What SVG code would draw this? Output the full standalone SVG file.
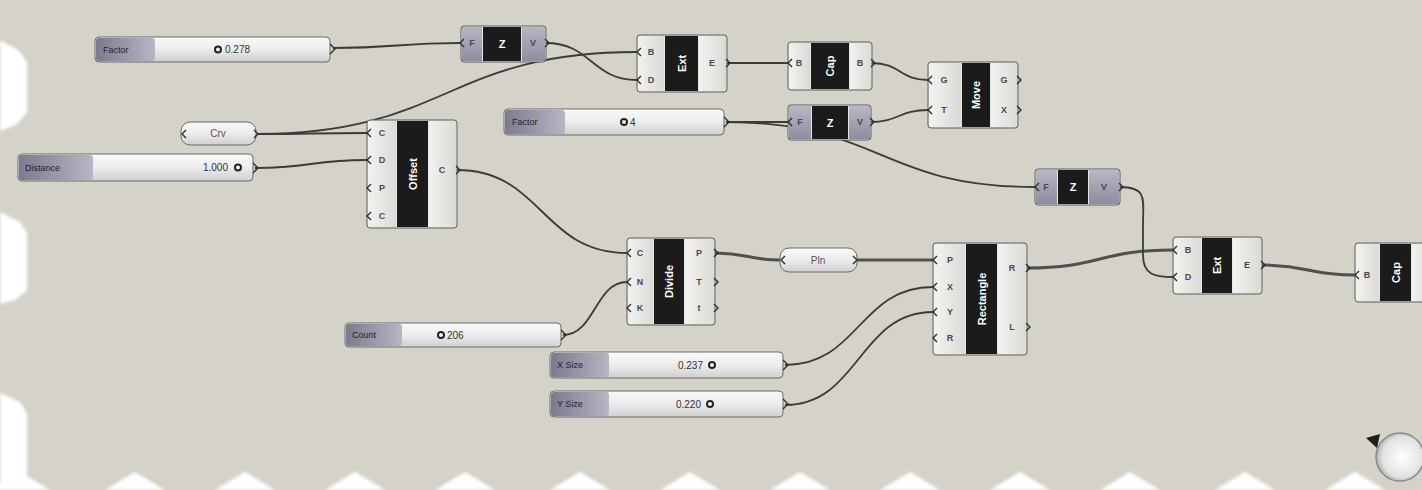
<svg xmlns="http://www.w3.org/2000/svg" width="1422" height="490" viewBox="0 0 1422 490">
<defs>
<linearGradient id="valG" x1="0" y1="0" x2="0" y2="1"><stop offset="0" stop-color="#fafafa"/><stop offset="0.5" stop-color="#ececec"/><stop offset="1" stop-color="#cfcfcf"/></linearGradient>
<linearGradient id="labG" x1="0" y1="0" x2="1" y2="0"><stop offset="0" stop-color="#7c7a8c"/><stop offset="1" stop-color="#b8b6c4"/></linearGradient>
<linearGradient id="sideG" x1="0" y1="0" x2="1" y2="0"><stop offset="0" stop-color="#f2f2f0"/><stop offset="1" stop-color="#dadad6"/></linearGradient>
<linearGradient id="zG" x1="0" y1="0" x2="0" y2="1"><stop offset="0" stop-color="#b9b6c6"/><stop offset="1" stop-color="#8f8ca0"/></linearGradient>
<radialGradient id="navG" cx="0.55" cy="0.5" r="0.6"><stop offset="0" stop-color="#ffffff"/><stop offset="0.7" stop-color="#e2e2e2"/><stop offset="1" stop-color="#9a9a9a"/></radialGradient>
<filter id="soft" x="-10%" y="-10%" width="120%" height="120%"><feGaussianBlur stdDeviation="1.5"/></filter>
</defs>
<style>
.body{fill:#e6e6e3;stroke:#5c5c5c;stroke-width:1}
.side{fill:url(#sideG)}
.zside{fill:url(#zG)}
.core{fill:#1b1b1b}
.name{font-family:"Liberation Sans",Arial,sans-serif;font-size:11px;font-weight:bold;fill:#ffffff;text-anchor:middle;dominant-baseline:central}
.port{font-family:"Liberation Sans",Arial,sans-serif;font-size:9px;font-weight:bold;fill:#4a4a4a;text-anchor:middle;dominant-baseline:central}
.wire{fill:none;stroke:#3b3b3b;stroke-width:1.8}
.thick{fill:none;stroke:#505050;stroke-width:3}
.grip{fill:none;stroke:#2e2e2e;stroke-width:1.4}
.sval{fill:url(#valG);stroke:#6a6a6a;stroke-width:1}
.slab{fill:url(#labG)}
.ltxt{font-family:"Liberation Sans",Arial,sans-serif;font-size:9px;fill:#24222f;dominant-baseline:central}
.vtxt{font-family:"Liberation Sans",Arial,sans-serif;font-size:10px;fill:#333;dominant-baseline:central}
.knob{fill:#f4f4f4;stroke:#222;stroke-width:2}
.ptxt{font-family:"Liberation Sans",Arial,sans-serif;font-size:10px;fill:#555;text-anchor:middle;dominant-baseline:central}
.pbody{fill:url(#valG);stroke:#6a6a6a;stroke-width:1}
</style>
<rect width="1422" height="490" fill="#d5d2ca"/>
<g id="edges" fill="#ffffff" filter="url(#soft)">
<path d="M0,40 L18,50 L27,62 L27,112 L16,125 L0,131 Z"/>
<path d="M0,212 L20,222 L27,233 L27,290 L15,300 L0,304 Z"/>
<path d="M0,393 L20,402 L27,413 L27,490 L0,490 Z"/>
<path d="M-10,490 L20,472 L50,490 Z M105,490 L135,472 L165,490 Z M215,490 L245,472 L275,490 Z M325,490 L355,472 L385,490 Z M435,490 L465,472 L495,490 Z M550,490 L580,472 L610,490 Z M660,490 L690,472 L720,490 Z M770,490 L800,472 L830,490 Z M880,490 L910,472 L940,490 Z M990,490 L1020,472 L1050,490 Z M1100,490 L1130,472 L1160,490 Z M1215,490 L1245,472 L1275,490 Z M1325,490 L1355,472 L1385,490 Z"/>
</g>
<g id="connectors">
<path class="wire" d="M333,48 C396,48 397,43 460,43"/>
<path class="wire" d="M546,43 C591,43 592,80 637,80"/>
<path class="wire" d="M257,134 C447,134 447,52 637,52"/>
<path class="wire" d="M257,134 C312,134 312,133 367,133"/>
<path class="wire" d="M255,168 C311,168 311,160 367,160"/>
<path class="wire" d="M457,170 C542,170 542,253 627,253"/>
<path class="wire" d="M563,335 C595,335 595,282 627,282"/>
<path class="thick" d="M715,253 C748,253 748,260 780,260"/>
<path class="thick" d="M857,260 C895,260 895,260 933,260"/>
<path class="wire" d="M785,365 C859,365 859,287 933,287"/>
<path class="wire" d="M785,405 C859,405 859,312 933,312"/>
<path class="wire" d="M727,63 C758,63 758,63 788,63"/>
<path class="wire" d="M872,63 C900,63 900,80 928,80"/>
<path class="wire" d="M726,122 C757,122 757,122 788,122"/>
<path class="wire" d="M870,122 C899,122 899,110 928,110"/>
<path class="wire" d="M726,122 C880,122 880,187 1035,187"/>
<path class="thick" d="M1027,268 C1100,268 1100,250 1173,250"/>
<path class="wire" d="M1120,187 C1148,187 1143,200 1143,225 L1143,255 C1143,275 1155,277 1173,277"/>
<path class="thick" d="M1262,265 C1308,265 1308,275 1355,275"/>
</g>
<g id="slider-factor1">
<rect class="sval" x="95" y="37" width="235" height="25" rx="4"/>
<rect class="slab" x="96" y="38" width="59" height="23" rx="3"/>
<text class="ltxt" x="103" y="49.5">Factor</text>
<circle class="knob" cx="218" cy="49.5" r="3"/>
<text class="vtxt" x="225" y="49.5">0.278</text>
<path class="grip" d="M330,44 L335,49 L330,54"/>
</g>
<g id="slider-factor2">
<rect class="sval" x="504" y="109" width="220" height="26" rx="4"/>
<rect class="slab" x="505" y="110" width="60" height="24" rx="3"/>
<text class="ltxt" x="512" y="122">Factor</text>
<circle class="knob" cx="624" cy="122" r="3"/>
<text class="vtxt" x="630" y="122">4</text>
<path class="grip" d="M724,117 L729,122 L724,127"/>
</g>
<g id="slider-distance">
<rect class="sval" x="18" y="154" width="235" height="27" rx="4"/>
<rect class="slab" x="19" y="155" width="74" height="25" rx="3"/>
<text class="ltxt" x="25" y="167.5">Distance</text>
<text class="vtxt" x="228" y="167.5" text-anchor="end">1.000</text>
<circle class="knob" cx="238" cy="167.5" r="3"/>
<path class="grip" d="M253,163 L258,168 L253,173"/>
</g>
<g id="slider-count">
<rect class="sval" x="345" y="323" width="216" height="24" rx="4"/>
<rect class="slab" x="346" y="324" width="56" height="22" rx="3"/>
<text class="ltxt" x="352" y="335">Count</text>
<circle class="knob" cx="441" cy="335" r="3"/>
<text class="vtxt" x="447" y="335">206</text>
<path class="grip" d="M561,330 L566,335 L561,340"/>
</g>
<g id="slider-xsize">
<rect class="sval" x="550" y="352" width="233" height="26" rx="4"/>
<rect class="slab" x="551" y="353" width="58" height="24" rx="3"/>
<text class="ltxt" x="557" y="365">X Size</text>
<text class="vtxt" x="703" y="365" text-anchor="end">0.237</text>
<circle class="knob" cx="712" cy="365" r="3"/>
<path class="grip" d="M783,360 L788,365 L783,370"/>
</g>
<g id="slider-ysize">
<rect class="sval" x="550" y="391" width="233" height="26" rx="4"/>
<rect class="slab" x="551" y="392" width="58" height="24" rx="3"/>
<text class="ltxt" x="557" y="404">Y Size</text>
<text class="vtxt" x="701" y="404" text-anchor="end">0.220</text>
<circle class="knob" cx="710" cy="404" r="3"/>
<path class="grip" d="M783,399 L788,404 L783,409"/>
</g>
<g id="param-crv">
<rect class="pbody" x="181" y="122" width="75" height="23" rx="9"/>
<text class="ptxt" x="218" y="133.5">Crv</text>
<path class="grip" d="M186,130 L182,134 L186,138"/>
<path class="grip" d="M254,130 L258,134 L254,138"/>
</g>
<g id="param-pln">
<rect class="pbody" x="780" y="248" width="77" height="24" rx="9"/>
<text class="ptxt" x="818" y="260">Pln</text>
<path class="grip" d="M785,256 L781,260 L785,264"/>
<path class="grip" d="M853,256 L857,260 L853,264"/>
</g>
<g id="unitz-1">
<rect class="body" x="461" y="26" width="85" height="36" rx="3"/>
<rect class="zside" x="462" y="27" width="20" height="34"/>
<rect class="core" x="483" y="27" width="38" height="34"/>
<rect class="zside" x="522" y="27" width="23" height="34"/>
<text class="name" x="502" y="44">Z</text>
<text class="port" x="472" y="43">F</text>
<text class="port" x="533" y="43">V</text>
<path class="grip" d="M464,39 L460,43 L464,47"/>
<path class="grip" d="M545,39 L549,43 L545,47"/>
</g>
<g id="extrude-1">
<rect class="body" x="637" y="35" width="90" height="57" rx="3"/>
<rect class="side" x="638" y="36" width="26" height="55"/>
<rect class="core" x="665" y="36" width="33" height="55"/>
<rect class="side" x="699" y="36" width="27" height="55"/>
<text class="name" transform="translate(681.5,63.5) rotate(-90)">Ext</text>
<text class="port" x="651" y="52">B</text>
<text class="port" x="651" y="80">D</text>
<text class="port" x="712" y="63">E</text>
<path class="grip" d="M641,48 L637,52 L641,56"/>
<path class="grip" d="M641,76 L637,80 L641,84"/>
<path class="grip" d="M726,59 L730,63 L726,67"/>
</g>
<g id="cap-1">
<rect class="body" x="788" y="42" width="84" height="48" rx="3"/>
<rect class="side" x="789" y="43" width="21" height="46"/>
<rect class="core" x="811" y="43" width="38" height="46"/>
<rect class="side" x="850" y="43" width="21" height="46"/>
<text class="name" transform="translate(830,66) rotate(-90)">Cap</text>
<text class="port" x="799" y="63">B</text>
<text class="port" x="860" y="63">B</text>
<path class="grip" d="M792,59 L788,63 L792,67"/>
<path class="grip" d="M871,59 L875,63 L871,67"/>
</g>
<g id="move">
<rect class="body" x="928" y="62" width="90" height="66" rx="3"/>
<rect class="side" x="929" y="63" width="32" height="64"/>
<rect class="core" x="962" y="63" width="28" height="64"/>
<rect class="side" x="991" y="63" width="26" height="64"/>
<text class="name" transform="translate(976,95) rotate(-90)">Move</text>
<text class="port" x="944" y="80">G</text>
<text class="port" x="944" y="110">T</text>
<text class="port" x="1004" y="80">G</text>
<text class="port" x="1004" y="110">X</text>
<path class="grip" d="M932,76 L928,80 L932,84"/>
<path class="grip" d="M932,106 L928,110 L932,114"/>
<path class="grip" d="M1017,76 L1021,80 L1017,84"/>
<path class="grip" d="M1017,106 L1021,110 L1017,114"/>
</g>
<g id="unitz-2">
<rect class="body" x="788" y="105" width="83" height="35" rx="3"/>
<rect class="zside" x="789" y="106" width="22" height="33"/>
<rect class="core" x="812" y="106" width="36" height="33"/>
<rect class="zside" x="849" y="106" width="21" height="33"/>
<text class="name" x="830" y="123">Z</text>
<text class="port" x="800" y="122">F</text>
<text class="port" x="860" y="122">V</text>
<path class="grip" d="M792,118 L788,122 L792,126"/>
<path class="grip" d="M870,118 L874,122 L870,126"/>
</g>
<g id="offset">
<rect class="body" x="367" y="120" width="90" height="108" rx="3"/>
<rect class="side" x="368" y="121" width="28" height="106"/>
<rect class="core" x="397" y="121" width="31" height="106"/>
<rect class="side" x="429" y="121" width="27" height="106"/>
<text class="name" transform="translate(412.5,174) rotate(-90)">Offset</text>
<text class="port" x="382" y="133">C</text>
<text class="port" x="382" y="160">D</text>
<text class="port" x="382" y="188">P</text>
<text class="port" x="382" y="216">C</text>
<text class="port" x="442" y="170">C</text>
<path class="grip" d="M371,129 L367,133 L371,137"/>
<path class="grip" d="M371,156 L367,160 L371,164"/>
<path class="grip" d="M371,184 L367,188 L371,192"/>
<path class="grip" d="M371,212 L367,216 L371,220"/>
<path class="grip" d="M456,166 L460,170 L456,174"/>
</g>
<g id="unitz-3">
<rect class="body" x="1035" y="169" width="85" height="36" rx="3"/>
<rect class="zside" x="1036" y="170" width="21" height="34"/>
<rect class="core" x="1058" y="170" width="30" height="34"/>
<rect class="zside" x="1089" y="170" width="30" height="34"/>
<text class="name" x="1073" y="187">Z</text>
<text class="port" x="1046" y="187">F</text>
<text class="port" x="1104" y="187">V</text>
<path class="grip" d="M1039,183 L1035,187 L1039,191"/>
<path class="grip" d="M1119,183 L1123,187 L1119,191"/>
</g>
<g id="divide">
<rect class="body" x="627" y="238" width="88" height="87" rx="3"/>
<rect class="side" x="628" y="239" width="25" height="85"/>
<rect class="core" x="654" y="239" width="30" height="85"/>
<rect class="side" x="685" y="239" width="29" height="85"/>
<text class="name" transform="translate(669,281.5) rotate(-90)">Divide</text>
<text class="port" x="640" y="253">C</text>
<text class="port" x="640" y="282">N</text>
<text class="port" x="640" y="308">K</text>
<text class="port" x="699" y="253">P</text>
<text class="port" x="699" y="282">T</text>
<text class="port" x="699" y="308">t</text>
<path class="grip" d="M631,249 L627,253 L631,257"/>
<path class="grip" d="M631,278 L627,282 L631,286"/>
<path class="grip" d="M631,304 L627,308 L631,312"/>
<path class="grip" d="M714,249 L718,253 L714,257"/>
<path class="grip" d="M714,278 L718,282 L714,286"/>
<path class="grip" d="M714,304 L718,308 L714,312"/>
</g>
<g id="rectangle">
<rect class="body" x="933" y="243" width="94" height="112" rx="3"/>
<rect class="side" x="934" y="244" width="31" height="110"/>
<rect class="core" x="966" y="244" width="31" height="110"/>
<rect class="side" x="998" y="244" width="28" height="110"/>
<text class="name" transform="translate(981.5,299) rotate(-90)">Rectangle</text>
<text class="port" x="950" y="260">P</text>
<text class="port" x="950" y="287">X</text>
<text class="port" x="950" y="312">Y</text>
<text class="port" x="950" y="338">R</text>
<text class="port" x="1012" y="268">R</text>
<text class="port" x="1012" y="327">L</text>
<path class="grip" d="M937,256 L933,260 L937,264"/>
<path class="grip" d="M937,283 L933,287 L937,291"/>
<path class="grip" d="M937,308 L933,312 L937,316"/>
<path class="grip" d="M937,334 L933,338 L937,342"/>
<path class="grip" d="M1026,264 L1030,268 L1026,272"/>
<path class="grip" d="M1026,323 L1030,327 L1026,331"/>
</g>
<g id="extrude-2">
<rect class="body" x="1173" y="237" width="89" height="57" rx="3"/>
<rect class="side" x="1174" y="238" width="27" height="55"/>
<rect class="core" x="1202" y="238" width="30" height="55"/>
<rect class="side" x="1233" y="238" width="28" height="55"/>
<text class="name" transform="translate(1217,265.5) rotate(-90)">Ext</text>
<text class="port" x="1188" y="250">B</text>
<text class="port" x="1188" y="277">D</text>
<text class="port" x="1247" y="265">E</text>
<path class="grip" d="M1177,246 L1173,250 L1177,254"/>
<path class="grip" d="M1177,273 L1173,277 L1177,281"/>
<path class="grip" d="M1261,261 L1265,265 L1261,269"/>
</g>
<g id="cap-2">
<rect class="body" x="1355" y="243" width="90" height="59" rx="3"/>
<rect class="side" x="1356" y="244" width="23" height="57"/>
<rect class="core" x="1380" y="244" width="31" height="57"/>
<rect class="side" x="1412" y="244" width="20" height="57"/>
<text class="name" transform="translate(1395.5,272.5) rotate(-90)">Cap</text>
<text class="port" x="1367" y="275">B</text>
<path class="grip" d="M1359,271 L1355,275 L1359,279"/>
</g>
<g id="nav">
<circle cx="1400" cy="457" r="24" fill="url(#navG)" stroke="#8a8a8a" stroke-width="1.5"/>
<path d="M1366,438 L1380,434 L1377,448 Z" fill="#1e1e1e"/>
</g>
</svg>
